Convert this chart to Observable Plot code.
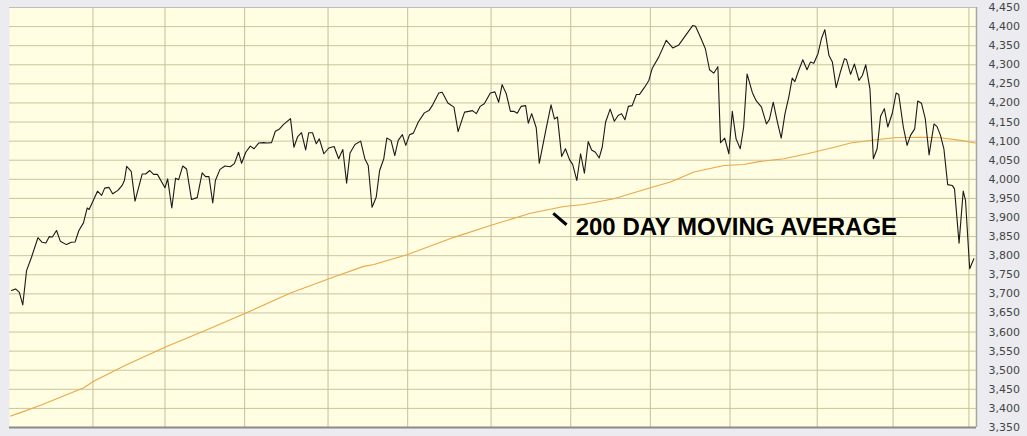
<!DOCTYPE html>
<html><head><meta charset="utf-8">
<script src="https://cdn.jsdelivr.net/npm/d3@7"></script>
<script src="https://cdn.jsdelivr.net/npm/@observablehq/plot@0.6"></script>
<style>html,body{margin:0;padding:0;background:#ECECF0;} svg{display:block}</style>
</head><body><div id="chart"></div>
<script>
// Daily index close (trading-day index, value)
const priceDay = [0.5,1.6,2.6,3.5,4.5,5.8,7.5,8.6,9.6,10.5,11.3,12.4,13.4,15.0,16.3,17.3,18.3,19.5,20.5,21.0,22.3,23.2,24.3,25.1,26.2,27.2,28.6,29.7,30.3,30.9,32.1,33.1,35.0,35.9,37.0,38.0,39.0,41.0,41.7,
42.8,43.8,44.6,45.7,46.7,48.0,49.5,50.8,51.7,52.6,53.6,54.3,55.5,56.8,58.2,59.3,60.4,61.2,62.3,63.5,64.5,65.7,67.0,68.0,69.1,70.1,71.2,72.3,74.1,75.0,76.0,77.0,78.1,78.9,79.9,80.9,81.7,82.9,84.2,
85.6,86.8,87.9,88.9,89.8,91.1,92.6,93.7,94.6,95.6,96.7,97.6,98.7,99.5,100.6,101.6,102.5,103.6,104.5,105.5,106.5,107.8,109.4,110.6,111.6,113.2,114.1,115.6,117.2,118.3,120.0,121.1,122.1,123.1,124.1,125.2,
126.8,128.0,129.0,129.9,131.0,132.1,133.0,133.9,134.9,136.1,136.8,137.7,138.9,139.7,141.5,142.8,143.7,144.5,145.6,146.6,147.7,148.5,149.6,150.6,151.6,152.6,153.5,154.5,155.5,156.3,157.2,158.4,159.5,160.5,161.4,162.3,163.2,164.2,165.3,166.1,167.4,168.6,
169.5,171.2,173.2,174.9,176.5,178.3,180.2,180.9,182.3,183.5,184.6,185.7,186.8,187.5,188.6,189.7,190.6,191.6,192.7,193.6,194.5,195.9,196.9,198.3,199.6,200.4,201.4,202.5,203.5,204.5,205.5,206.4,207.1,208.1,209.2,210.3,211.2,212.1,
213.2,214.1,215.0,216.1,217.0,218.0,219.1,220.2,220.7,221.8,222.8,224.0,224.9,225.8,226.9,227.8,228.8,229.7,230.7,231.6,232.8,233.8,234.5,235.7,236.7,237.6,238.7,239.5,240.5,241.5,242.5,243.8,244.6,245.5,246.4,247.4,248.6,249.2,250.4,251.5,252.1,253.2,254.3];
const priceValue = [3709,3713,3704,3671,3761,3796,3847,3835,3833,3850,3849,3866,3838,3829,3835,3836,3866,3886,3925,3921,3949,3969,3958,3977,3979,3962,3971,3984,3997,4034,4021,3943,4014,4014,4023,4013,4013,3978,4001,
3925,4003,3999,4035,4027,3947,3952,4017,4007,4007,3938,3997,4026,4035,4033,4041,4071,4042,4071,4087,4080,4095,4096,4095,4096,4126,4132,4144,4159,4084,4112,4122,4077,4122,4122,4093,4106,4067,4082,
4086,4054,4078,3990,4069,4091,4100,4054,4036,3927,3953,4023,4054,4108,4102,4062,4102,4117,4089,4117,4121,4150,4174,4180,4195,4226,4228,4200,4189,4125,4176,4178,4180,4172,4191,4198,
4226,4229,4202,4248,4224,4178,4178,4173,4191,4193,4147,4172,4135,4042,4132,4195,4158,4163,4060,4080,4051,4039,3997,4067,4016,4099,4077,4071,4056,4084,4150,4184,4152,4167,4172,4156,4191,4193,4222,4222,4240,4259,
4291,4320,4364,4344,4352,4377,4403,4401,4370,4342,4287,4278,4295,4096,4108,4067,4178,4106,4080,4137,4276,4227,4206,4189,4145,4157,4202,4150,4108,4172,4215,4265,4256,4285,4313,4287,4307,4304,
4329,4368,4392,4324,4307,4240,4281,4316,4314,4275,4302,4259,4272,4300,4237,4054,4080,4165,4185,4137,4173,4226,4222,4137,4089,4115,4132,4205,4199,4158,4064,4145,4138,4115,4080,3986,3984,3975,3833,3969,3945,3766,3792];

// 200-day moving average
const maDay = [0.3,2.9,8.2,19.6,22.2,31.0,41.6,52.1,62.2,74.1,85.5,93.4,96.1,105.0,117.2,126.8,137.4,146.2,151.4,159.4,169.0,174.3,180.5,188.4,193.6,198.0,204.2,210.4,218.3,221.8,227.9,233.2,240.2,245.5,250.8,254.7];
const maValue = [3380,3389,3408,3454,3471,3515,3563,3606,3649,3702,3744,3772,3777,3803,3848,3879,3911,3929,3934,3949,3978,3993,4019,4036,4039,4047,4054,4067,4086,4095,4103,4109,4110,4109,4102,4095];

// Month boundaries (trading-day index) and y tick values
const monthStarts = [22,41,62,84,105,127,148,169,190,213,233,253];
const yTicks = d3.range(3350, 4451, 50);

// Annotation
const noteText = ["200 DAY MOVING AVERAGE"];
const noteAt = [{x: 149.3, y: 3873}];
const notePointer = [{x1: 143.4, y1: 3911, x2: 146.9, y2: 3881}];

const price = priceDay.map((d, i) => ({day: d, value: priceValue[i]}));
const ma = maDay.map((d, i) => ({day: d, value: maValue[i]}));

const chart = Plot.plot({
  width: 1027,
  height: 436,
  marginLeft: 9,
  marginRight: 51,
  marginTop: 7,
  marginBottom: 9,
  style: {background: "#ECECF0", fontFamily: "DejaVu Sans, Verdana, sans-serif"},
  x: {domain: [0, 255], axis: null},
  y: {domain: [3350, 4450], axis: null},
  marks: [
    Plot.frame({fill: "#FFFDE2", stroke: null}),
    Plot.ruleY(yTicks, {stroke: "#CAC69C", strokeWidth: 1}),
    Plot.ruleX(monthStarts, {stroke: "#C4C09A", strokeWidth: 1}),
    Plot.line(ma, {x: "day", y: "value", stroke: "#EBA748", strokeWidth: 1.1}),
    Plot.line(price, {x: "day", y: "value", stroke: "#1A1A1A", strokeWidth: 1.1}),
    Plot.link(notePointer, {x1: "x1", y1: "y1", x2: "x2", y2: "y2", stroke: "#000", strokeWidth: 3}),
    Plot.text(noteText, {x: () => noteAt[0].x, y: () => noteAt[0].y, text: d => d, textAnchor: "start",
      fontSize: 24, fontWeight: "bold", fontFamily: "Liberation Sans, Arial, sans-serif", fill: "#000"}),
    Plot.ruleY([4450], {stroke: "#BDBDBD", strokeWidth: 1}),
    Plot.ruleX([255], {stroke: "#A8A8A8", strokeWidth: 1.5}),
    Plot.ruleY([3350], {stroke: "#8A8A8A", strokeWidth: 2}),
    Plot.axisY(yTicks, {anchor: "right", tickSize: 0, tickPadding: 12, tickFormat: d3.format(","),
      fontSize: 11, fill: "#444", textAnchor: "start"})
  ]
});
document.getElementById("chart").appendChild(chart);
</script>
</body></html>
